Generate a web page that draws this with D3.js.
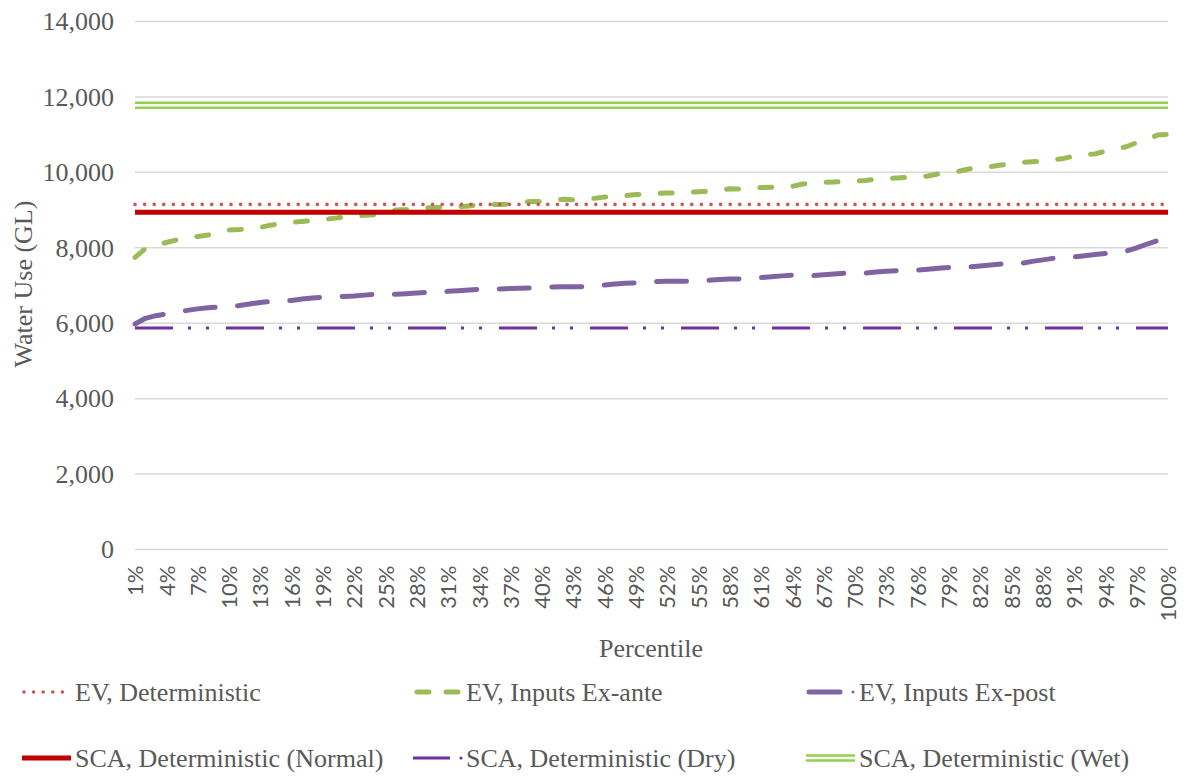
<!DOCTYPE html>
<html>
<head>
<meta charset="utf-8">
<script src="https://cdn.jsdelivr.net/npm/d3@7"></script>
<style>
  html, body { margin: 0; padding: 0; background: #fff; }
  svg { display: block; }
</style>
</head>
<body>
<svg id="chart" width="1187" height="778"></svg>
<script>
// Percentile categories (1% .. 100%), every third one is labelled
const percentiles = d3.range(1, 101).map(p => p + "%");
const xTickLabels = percentiles.filter((_, i) => i % 3 === 0);
const yTicks = [0, 2000, 4000, 6000, 8000, 10000, 12000, 14000];

// Water use (GL) by percentile
const evExAnte = [
  7745, 7984, 8070, 8140, 8210, 8250, 8300, 8340, 8410, 8470,
  8485, 8510, 8540, 8600, 8640, 8670, 8700, 8720, 8750, 8780,
  8810, 8840, 8860, 8880, 8940, 9000, 9015, 9040, 9060, 9070,
  9080, 9090, 9110, 9130, 9150, 9150, 9160, 9200, 9230, 9225,
  9260, 9285, 9270, 9290, 9310, 9345, 9360, 9380, 9410, 9425,
  9440, 9450, 9460, 9470, 9485, 9500, 9530, 9565, 9555, 9580,
  9600, 9605, 9615, 9630, 9690, 9715, 9735, 9745, 9755, 9770,
  9785, 9820, 9835, 9850, 9865, 9880, 9905, 9960, 10000, 10030,
  10095, 10125, 10150, 10195, 10230, 10265, 10280, 10295, 10330, 10370,
  10430, 10460, 10490, 10560, 10620, 10680, 10790, 10870, 10990, 11010
];
const evExPost = [
  5980, 6130, 6200, 6245, 6300, 6340, 6380, 6410, 6425, 6440,
  6470, 6510, 6550, 6575, 6590, 6605, 6640, 6670, 6690, 6700,
  6710, 6720, 6745, 6770, 6765, 6765, 6780, 6800, 6820, 6830,
  6845, 6860, 6880, 6900, 6905, 6910, 6920, 6930, 6935, 6950,
  6960, 6965, 6965, 6970, 6990, 7015, 7040, 7060, 7070, 7090,
  7105, 7110, 7110, 7115, 7125, 7140, 7160, 7170, 7175, 7195,
  7210, 7230, 7255, 7275, 7270, 7265, 7285, 7305, 7325, 7325,
  7330, 7355, 7375, 7395, 7400, 7410, 7430, 7455, 7475, 7485,
  7495, 7520, 7545, 7570, 7580, 7590, 7640, 7680, 7720, 7740,
  7760, 7790, 7820, 7850, 7875, 7910, 8000, 8100, 8190, 8220
];
// Single-value scenarios, constant across all percentiles
const evDeterministic = 9150;
const scaNormal = 8940;
const scaDry = 5870;
const scaWet = 11780;

const textColor = "#595959";
const serif = "'Liberation Serif', 'Times New Roman', serif";

const svg = d3.select("#chart");

const x = d3.scalePoint().domain(percentiles).range([135, 1168]);
const y = d3.scaleLinear().domain([0, 14000]).range([549.5, 21.5]);

// Horizontal gridlines
svg.append("g")
  .selectAll("line")
  .data(yTicks)
  .join("line")
  .attr("x1", x.range()[0])
  .attr("x2", x.range()[1])
  .attr("y1", d => y(d))
  .attr("y2", d => y(d))
  .attr("stroke", "#d9d9d9")
  .attr("stroke-width", 1.5);

// Y axis labels
const yAxis = svg.append("g")
  .attr("transform", "translate(120,0)")
  .call(d3.axisLeft(y).tickValues(yTicks).tickFormat(d3.format(",")).tickSize(0).tickPadding(6));
yAxis.select(".domain").remove();
yAxis.selectAll("text")
  .attr("fill", textColor)
  .style("font-family", serif)
  .style("font-size", "26px");

// X axis labels (rotated)
const xAxis = svg.append("g")
  .attr("transform", `translate(0,${y(0)})`)
  .call(d3.axisBottom(x).tickValues(xTickLabels).tickSize(0).tickPadding(0));
xAxis.select(".domain").remove();
xAxis.selectAll("text")
  .attr("fill", textColor)
  .style("font-family", "Lato, 'Open Sans', sans-serif")
  .style("font-size", "22px")
  .attr("text-anchor", "end")
  .attr("dy", "0.35em")
  .attr("transform", "translate(0,16) rotate(-90)")
  .attr("x", 0)
  .attr("y", 0);

// Axis titles
svg.append("text")
  .attr("transform", "translate(23,284) rotate(-90)")
  .attr("text-anchor", "middle")
  .attr("dy", "0.35em")
  .attr("fill", textColor)
  .style("font-family", serif)
  .style("font-size", "26px")
  .text("Water Use (GL)");

svg.append("text")
  .attr("x", 651)
  .attr("y", 648)
  .attr("text-anchor", "middle")
  .attr("dy", "0.35em")
  .attr("fill", textColor)
  .style("font-family", serif)
  .style("font-size", "26px")
  .text("Percentile");

// Line styles per series
const styles = {
  evDet:   { stroke: "#cc5555", width: 3.6, dash: "0 9.6", cap: "round" },
  exAnte:  { stroke: "#9bbb59", width: 5, dash: "12 21.3", cap: "round" },
  exPost:  { stroke: "#8064a2", width: 5, dash: "30 22.5", cap: "round" },
  normal:  { stroke: "#c00000", width: 5, dash: null, cap: "butt" },
  dry:     { stroke: "#7030a0", width: 3, dash: "38 15 3 15 3 17", cap: "butt" },
  wet:     { stroke: "#92d050", width: 7.5, dash: null, cap: "butt", inner: 2.5 }
};

const line = d3.line().x(d => x(d.cat)).y(d => y(d.v));
const curve = vals => vals.map((v, i) => ({ cat: percentiles[i], v }));
const flat = v => [{ cat: percentiles[0], v }, { cat: percentiles[percentiles.length - 1], v }];

function drawPath(g, data, s) {
  const p = g.append("path")
    .datum(data)
    .attr("d", line)
    .attr("fill", "none")
    .attr("stroke", s.stroke)
    .attr("stroke-width", s.width)
    .attr("stroke-linecap", s.cap)
    .attr("stroke-linejoin", "round");
  if (s.dash) p.attr("stroke-dasharray", s.dash);
  if (s.inner) {
    g.append("path")
      .datum(data)
      .attr("d", line)
      .attr("fill", "none")
      .attr("stroke", "#ffffff")
      .attr("stroke-width", s.inner);
  }
}

const plot = svg.append("g");
drawPath(plot, curve(evExAnte), styles.exAnte);
drawPath(plot, curve(evExPost), styles.exPost);
drawPath(plot, flat(evDeterministic), styles.evDet);
drawPath(plot, flat(scaNormal), styles.normal);
drawPath(plot, flat(scaDry), styles.dry);
drawPath(plot, flat(scaWet), styles.wet);

// Legend: symbol sample (line with its own dash sample) and label
const legendItems = [
  { label: "EV, Deterministic", style: styles.evDet, col: 0, row: 0, sample: { dash: "0 9.6", from: 2, to: 48 } },
  { label: "EV, Inputs Ex-ante", style: styles.exAnte, col: 1, row: 0, sample: { dash: "12 17", from: 4, to: 48 } },
  { label: "EV, Inputs Ex-post", style: styles.exPost, col: 2, row: 0, sample: { dash: null, from: 3, to: 34, dot: 47 } },
  { label: "SCA, Deterministic (Normal)", style: styles.normal, col: 0, row: 1, sample: { dash: null, from: 0, to: 49 } },
  { label: "SCA, Deterministic (Dry)", style: styles.dry, col: 1, row: 1, sample: { dash: null, from: 0, to: 37, dot: 48 } },
  { label: "SCA, Deterministic (Wet)", style: styles.wet, col: 2, row: 1, sample: { dash: null, from: 0, to: 49 } }
];
const colX = [22, 413, 806];
const rowY = [692, 758];
const textOffset = 53;
const legendLine = d3.line();

legendItems.forEach(item => {
  const g = svg.append("g")
    .attr("transform", `translate(${colX[item.col]},${rowY[item.row]})`);
  const s = item.style;
  const sm = item.sample;
  const seg = legendLine([[sm.from, 0], [sm.to, 0]]);
  const p = g.append("path")
    .attr("d", seg)
    .attr("fill", "none")
    .attr("stroke", s.stroke)
    .attr("stroke-width", s.width)
    .attr("stroke-linecap", s.cap);
  if (sm.dash) p.attr("stroke-dasharray", sm.dash);
  if (s.inner) {
    g.append("path")
      .attr("d", seg)
      .attr("fill", "none")
      .attr("stroke", "#ffffff")
      .attr("stroke-width", s.inner);
  }
  if (sm.dot) {
    g.append("circle")
      .attr("cx", sm.dot)
      .attr("cy", 0)
      .attr("r", 1.6)
      .attr("fill", s.stroke);
  }
  g.append("text")
    .attr("x", textOffset)
    .attr("y", 0)
    .attr("dy", "0.35em")
    .attr("fill", textColor)
    .style("font-family", serif)
    .style("font-size", "26px")
    .text(item.label);
});
</script>
</body>
</html>
